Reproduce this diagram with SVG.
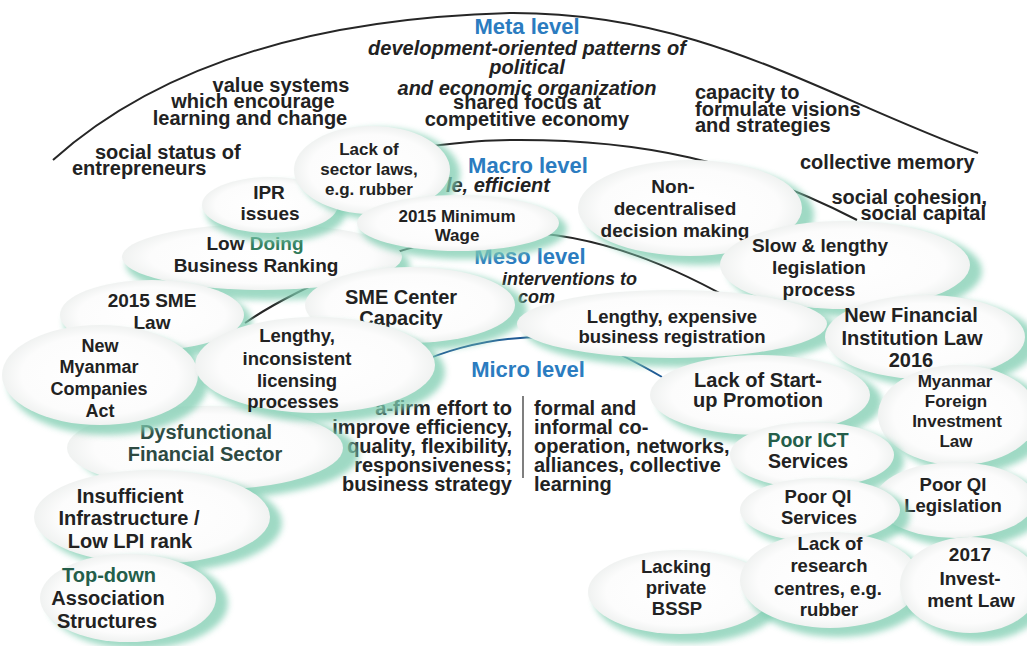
<svg xmlns="http://www.w3.org/2000/svg" width="1027" height="646" viewBox="0 0 1027 646">
<style>
.arc{fill:none;stroke:#262626;stroke-width:2}
.micro{stroke:#1f5a94}
.lvl{font-family:"Liberation Sans",Arial,sans-serif;font-weight:bold;font-size:22px;fill:#2b7cc0;text-anchor:middle}
.t{font-family:"Liberation Sans",Arial,sans-serif;font-weight:bold;font-size:20px;fill:#222}
.i{font-style:italic}
.m{text-anchor:middle}
.e{text-anchor:end}
.n{font-family:"Liberation Sans",Arial,sans-serif;font-weight:bold;font-size:19px;fill:#222;text-anchor:middle}
.sh{fill:#7fcdb1;opacity:0.75;filter:url(#blur)}
.bub{fill:url(#bg)}
.g{fill:#2f7a5a}
.dg{fill:#245e4a}
.sep{stroke:#555;stroke-width:1.5}
</style>
<defs>
<filter id="blur" x="-20%" y="-20%" width="140%" height="140%"><feGaussianBlur stdDeviation="3"/></filter>
<radialGradient id="bg"><stop offset="0" stop-color="#ffffff"/><stop offset="0.8" stop-color="#fcfcfc"/><stop offset="1" stop-color="#f0f2f1"/></radialGradient>
</defs>
<rect width="1027" height="646" fill="#ffffff"/>

<g id="level-arcs">
<path class="arc" d="M53,160 C120,100 250,20 510,13 C700,12 820,95 978,153"/>
<path class="arc" d="M425,147 C470,141 490,140 520,140 C640,140 740,160 857,220"/>
<path class="arc" d="M245,323 C300,285 420,232 510,232 C600,232 690,270 790,335"/>
<path class="arc micro" d="M380,385 C430,350 490,337 545,337 C590,337 615,350 662,377"/>
<line class="sep" x1="523" y1="396" x2="523" y2="478"/>
</g>

<g id="meta-level">
<text class="lvl" x="527" y="34">Meta level</text>
<text class="t i m" x="527" y="55">development-oriented patterns of</text>
<text class="t i m" x="527" y="74">political</text>
<text class="t i m" x="527" y="95">and economic organization</text>
<text class="t m" x="527" y="109">shared focus at</text>
<text class="t m" x="527" y="126">competitive economy</text>
<text class="t m" x="281" y="92">value systems</text>
<text class="t m" x="253" y="108">which encourage</text>
<text class="t m" x="250" y="125">learning and change</text>
<text class="t" x="95" y="159">social status of</text>
<text class="t" x="72" y="175">entrepreneurs</text>
<text class="t" x="695" y="99">capacity to</text>
<text class="t" x="695" y="116">formulate visions</text>
<text class="t" x="695" y="132">and strategies</text>
<text class="t" x="800" y="169">collective memory</text>
<text class="t e" x="987" y="204">social cohesion,</text>
<text class="t e" x="986" y="220">social capital</text>
</g>

<g id="macro-level">
<text class="lvl" x="528" y="173">Macro level</text>
<text class="t i e" x="550" y="192">le, efficient</text>
</g>

<g id="meso-level">
<text class="lvl" x="530" y="264">Meso level</text>
<text class="t i" x="502" y="285" style="font-size:18px">interventions to</text>
<text class="t i" x="518" y="303" style="font-size:18px">com</text>
</g>

<g id="micro-level">
<text class="lvl" x="528" y="377">Micro level</text>
<text class="t e" x="512" y="415">a-firm effort to</text>
<text class="t e" x="512" y="434">improve efficiency,</text>
<text class="t e" x="512" y="453">quality, flexibility,</text>
<text class="t e" x="512" y="472">responsiveness;</text>
<text class="t e" x="512" y="491">business strategy</text>
<text class="t" x="534" y="415">formal and</text>
<text class="t" x="534" y="434">informal co-</text>
<text class="t" x="534" y="453">operation, networks,</text>
<text class="t" x="534" y="472">alliances, collective</text>
<text class="t" x="534" y="491">learning</text>
</g>

<g id="n-low-doing">
<ellipse class="sh" cx="268" cy="265" rx="142" ry="35"/>
<ellipse class="bub" cx="262" cy="257" rx="140" ry="33"/>
<text class="n"><tspan x="255" y="250">Low <tspan class="g">Doing</tspan></tspan><tspan x="256" y="272">Business Ranking</tspan></text>
</g>

<g id="n-ipr">
<ellipse class="sh" cx="276" cy="212" rx="70" ry="30"/>
<ellipse class="bub" cx="270" cy="205" rx="68" ry="28"/>
<text class="n"><tspan x="269" y="199">IPR</tspan><tspan x="270" y="220">issues</tspan></text>
</g>

<g id="n-lack-sector-laws">
<ellipse class="sh" cx="380" cy="174" rx="80" ry="46"/>
<ellipse class="bub" cx="372" cy="170" rx="78" ry="44"/>
<text class="n" style="font-size:17px"><tspan x="369" y="155">Lack of</tspan><tspan x="369" y="175">sector laws,</tspan><tspan x="369" y="195">e.g. rubber</tspan></text>
</g>

<g id="n-min-wage">
<ellipse class="sh" cx="464" cy="229" rx="103" ry="30"/>
<ellipse class="bub" cx="458" cy="223" rx="101" ry="28"/>
<text class="n" style="font-size:17px"><tspan x="457" y="222">2015 Minimum</tspan><tspan x="457" y="241">Wage</tspan></text>
</g>

<g id="n-sme-law">
<ellipse class="sh" cx="158" cy="322" rx="94" ry="37"/>
<ellipse class="bub" cx="152" cy="315" rx="92" ry="35"/>
<text class="n"><tspan x="152" y="307">2015 SME</tspan><tspan x="152" y="329">Law</tspan></text>
</g>

<g id="n-sme-center">
<ellipse class="sh" cx="420" cy="310" rx="107" ry="40"/>
<ellipse class="bub" cx="410" cy="305" rx="105" ry="38"/>
<text class="n" style="font-size:20px"><tspan x="401" y="304">SME Center</tspan><tspan x="401" y="325">Capacity</tspan></text>
</g>

<g id="n-dysfunctional">
<ellipse class="sh" cx="219" cy="454" rx="140" ry="44"/>
<ellipse class="bub" cx="205" cy="448" rx="138" ry="42"/>
<text class="n" style="font-size:20px;fill:#2d4a42"><tspan x="206" y="439">Dysfunctional</tspan><tspan x="205" y="461">Financial Sector</tspan></text>
</g>

<g id="n-new-myanmar">
<ellipse class="sh" cx="108" cy="383" rx="100" ry="52"/>
<ellipse class="bub" cx="100" cy="375" rx="98" ry="50"/>
<text class="n" style="font-size:18px"><tspan x="100" y="352">New</tspan><tspan x="99" y="373">Myanmar</tspan><tspan x="99" y="395">Companies</tspan><tspan x="100" y="417">Act</tspan></text>
</g>

<g id="n-lengthy-licensing">
<ellipse class="sh" cx="323" cy="372" rx="122" ry="50"/>
<ellipse class="bub" cx="315" cy="365" rx="120" ry="48"/>
<text class="n" style="font-size:18.5px"><tspan x="297" y="342">Lengthy,</tspan><tspan x="297" y="365">inconsistent</tspan><tspan x="297" y="387">licensing</tspan><tspan x="293" y="408">processes</tspan></text>
</g>

<g id="n-insufficient">
<ellipse class="sh" cx="162" cy="523" rx="120" ry="49"/>
<ellipse class="bub" cx="152" cy="517" rx="118" ry="47"/>
<text class="n" style="font-size:20px"><tspan x="130" y="503">Insufficient</tspan><tspan x="129" y="525">Infrastructure /</tspan><tspan x="130" y="548">Low LPI rank</tspan></text>
</g>

<g id="n-top-down">
<ellipse class="sh" cx="138" cy="603" rx="90" ry="46"/>
<ellipse class="bub" cx="128" cy="598" rx="88" ry="44"/>
<text class="n" style="font-size:20px"><tspan x="109" y="582" class="dg">Top-down</tspan><tspan x="108" y="605">Association</tspan><tspan x="107" y="628">Structures</tspan></text>
</g>

<g id="n-non-decentralised">
<ellipse class="sh" cx="700" cy="215" rx="114" ry="50"/>
<ellipse class="bub" cx="690" cy="208" rx="112" ry="48"/>
<text class="n"><tspan x="673" y="193">Non-</tspan><tspan x="675" y="215">decentralised</tspan><tspan x="675" y="237">decision making</tspan></text>
</g>

<g id="n-slow-legislation">
<ellipse class="sh" cx="855" cy="271" rx="127" ry="46"/>
<ellipse class="bub" cx="845" cy="265" rx="125" ry="44"/>
<text class="n"><tspan x="820" y="252">Slow &amp; lengthy</tspan><tspan x="819" y="274">legislation</tspan><tspan x="819" y="296">process</tspan></text>
</g>

<g id="n-business-registration">
<ellipse class="sh" cx="682" cy="331" rx="157" ry="36"/>
<ellipse class="bub" cx="672" cy="324" rx="155" ry="34"/>
<text class="n" style="font-size:18.5px"><tspan x="672" y="323">Lengthy, expensive</tspan><tspan x="672" y="343">business registration</tspan></text>
</g>

<g id="n-new-financial">
<ellipse class="sh" cx="935" cy="343" rx="102" ry="44"/>
<ellipse class="bub" cx="925" cy="337" rx="100" ry="42"/>
<text class="n" style="font-size:20px"><tspan x="911" y="322">New Financial</tspan><tspan x="912" y="345">Institution Law</tspan><tspan x="911" y="367">2016</tspan></text>
</g>

<g id="n-startup">
<ellipse class="sh" cx="770" cy="402" rx="112" ry="42"/>
<ellipse class="bub" cx="760" cy="395" rx="110" ry="40"/>
<text class="n" style="font-size:20px"><tspan x="758" y="387">Lack of Start-</tspan><tspan x="758" y="407">up Promotion</tspan></text>
</g>

<g id="n-myanmar-fi">
<ellipse class="sh" cx="968" cy="421" rx="82" ry="52"/>
<ellipse class="bub" cx="958" cy="415" rx="80" ry="50"/>
<text class="n" style="font-size:17px"><tspan x="955" y="387">Myanmar</tspan><tspan x="956" y="407">Foreign</tspan><tspan x="957" y="427">Investment</tspan><tspan x="956" y="447">Law</tspan></text>
</g>

<g id="n-poor-ict">
<ellipse class="sh" cx="820" cy="461" rx="84" ry="35"/>
<ellipse class="bub" cx="812" cy="455" rx="82" ry="33"/>
<text class="n" style="font-size:19.5px"><tspan x="808" y="447" class="dg">Poor ICT</tspan><tspan x="808" y="468">Services</tspan></text>
</g>

<g id="n-poor-qi-legislation">
<ellipse class="sh" cx="963" cy="507" rx="82" ry="40"/>
<ellipse class="bub" cx="955" cy="500" rx="80" ry="38"/>
<text class="n" style="font-size:18.5px"><tspan x="953" y="491">Poor QI</tspan><tspan x="953" y="512">Legislation</tspan></text>
</g>

<g id="n-poor-qi-services">
<ellipse class="sh" cx="828" cy="516" rx="82" ry="34"/>
<ellipse class="bub" cx="820" cy="510" rx="80" ry="32"/>
<text class="n" style="font-size:18.5px"><tspan x="818" y="503">Poor QI</tspan><tspan x="819" y="524">Services</tspan></text>
</g>

<g id="n-lacking-bssp">
<ellipse class="sh" cx="688" cy="599" rx="94" ry="44"/>
<ellipse class="bub" cx="680" cy="592" rx="92" ry="42"/>
<text class="n" style="font-size:18.5px"><tspan x="676" y="573">Lacking</tspan><tspan x="676" y="594">private</tspan><tspan x="677" y="615">BSSP</tspan></text>
</g>

<g id="n-research-centres">
<ellipse class="sh" cx="838" cy="587" rx="92" ry="50"/>
<ellipse class="bub" cx="830" cy="580" rx="90" ry="48"/>
<text class="n" style="font-size:18.5px"><tspan x="830" y="550">Lack of</tspan><tspan x="829" y="572">research</tspan><tspan x="828" y="595">centres, e.g.</tspan><tspan x="829" y="616">rubber</tspan></text>
</g>

<g id="n-investment-law">
<ellipse class="sh" cx="978" cy="591" rx="72" ry="50"/>
<ellipse class="bub" cx="970" cy="585" rx="70" ry="48"/>
<text class="n"><tspan x="970" y="561">2017</tspan><tspan x="970" y="585">Invest-</tspan><tspan x="971" y="607">ment Law</tspan></text>
</g>
</svg>
